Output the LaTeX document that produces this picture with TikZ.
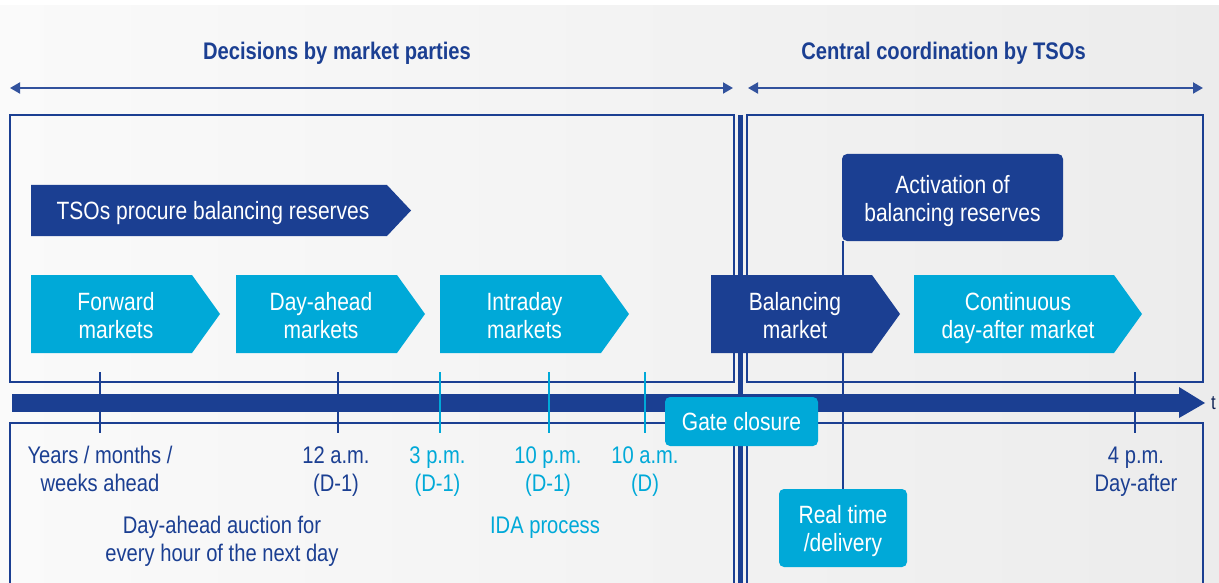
\documentclass[tikz,border=0pt]{standalone}
\usepackage{fontspec}
\setmainfont{Liberation Sans}[FakeStretch=0.84]
\usetikzlibrary{arrows.meta}
\definecolor{dblue}{HTML}{1B3F92}
\definecolor{cyanc}{HTML}{00A9D8}
\definecolor{bgl}{HTML}{FAFAFA}
\definecolor{bgr}{HTML}{ECECEC}
\newcommand\topstr{\rule{0pt}{20pt}}
\tikzset{
  txt/.style={inner sep=0pt, align=center, anchor=north},
  big/.style={font=\fontsize{25}{28}\selectfont},
  lab/.style={font=\fontsize{24}{28}\selectfont},
  ttl/.style={font=\fontsize{24}{28}\selectfont\bfseries, text=dblue},
  panel/.style={draw=dblue, line width=1.5pt},
  chevc/.style={fill=cyanc},
  chevd/.style={fill=dblue},
  rbox/.style={rounded corners=5pt, inner sep=0pt},
  tickd/.style={draw=dblue, line width=2pt},
  tickc/.style={draw=cyanc, line width=2pt},
  darr/.style={draw=dblue!90, line width=2pt, {Triangle[length=10pt,width=11pt]}-{Triangle[length=10pt,width=11pt]}},
}
\begin{document}
\begin{tikzpicture}[x=1pt,y=-1pt]
\useasboundingbox (0,0) rectangle (1219,583);
% background
\shade[left color=bgl, right color=bgr] (0,6) rectangle (1219,583);

% titles
\node[txt, ttl] (tl) at (337,39) {\topstr Decisions by market parties};
\node[txt, ttl] (tr) at (943.5,39) {\topstr Central coordination by TSOs};

% top double arrows
\coordinate (la) at (10,88);
\coordinate (lb) at (733,88);
\coordinate (ra) at (748,88);
\coordinate (rb) at (1203,88);
\draw[darr] (la) -- (lb);
\draw[darr] (ra) -- (rb);

% panels
\draw[panel] (10,115) rectangle (734,382);
\draw[panel] (747,115) rectangle (1203,382);
\draw[panel] (10,590) -- (10,423) -- (734,423) -- (734,590);
\draw[panel] (747,590) -- (747,423) -- (1203,423) -- (1203,590);

% middle thick separator
\draw[dblue, line width=5pt] (740.5,115) -- (740.5,590);

% chevrons
\fill[chevd] (31,185) -- (387,185) -- (411,210.5) -- (387,236) -- (31,236) -- cycle;
\fill[chevc] (31,275) -- (192,275) -- (220,314) -- (192,353) -- (31,353) -- cycle;
\fill[chevc] (236,275) -- (397,275) -- (425,314) -- (397,353) -- (236,353) -- cycle;
\fill[chevc] (440,275) -- (601,275) -- (629,314) -- (601,353) -- (440,353) -- cycle;
\fill[chevd] (711,275) -- (872,275) -- (900,314) -- (872,353) -- (711,353) -- cycle;
\fill[chevc] (914,275) -- (1114,275) -- (1142,314) -- (1114,353) -- (914,353) -- cycle;

% activation box
\node[rbox, fill=dblue, minimum width=221pt, minimum height=87pt] (act) at (952.5,197.5) {};

% timeline
\fill[dblue] (12,393.5) rectangle (1180,412);
\fill[dblue] (1179,387) -- (1205,403) -- (1179,418) -- cycle;
\node[anchor=base west, inner sep=0pt, font=\fontsize{20}{24}\selectfont, text=dblue!60!black] (t) at (1211,409) {t};

% ticks
\draw[tickd] (100,372) -- (100,433);
\draw[tickd] (338,372) -- (338,433);
\draw[tickc] (440,372) -- (440,433);
\draw[tickc] (549,372) -- (549,433);
\draw[tickc] (645,372) -- (645,433);
\draw[tickd] (1135,372) -- (1135,433);

% real time and gate closure boxes
\node[rbox, fill=cyanc, minimum width=128pt, minimum height=78pt] (rt) at (843,528) {};
\node[rbox, fill=cyanc, minimum width=153pt, minimum height=49pt] (gc) at (741.5,421.5) {};

% connector from activation to real time
\draw[dblue, line width=2pt] (rt.north |- act.south) -- (rt.north);

% chevron texts
\node[txt, big, text=white] (tso) at (213,199) {\topstr TSOs procure balancing reserves};
\node[txt, big, text=white] (fwd) at (116,290) {\topstr Forward\\markets};
\node[txt, big, text=white] (dam) at (321,290) {\topstr Day-ahead\\markets};
\node[txt, big, text=white] (idm) at (524.5,290) {\topstr Intraday\\markets};
\node[txt, big, text=white] (bal) at (795,290) {\topstr Balancing\\market};
\node[txt, big, text=white] (cda) at (1018,290) {\topstr Continuous\\day-after market};
\node[txt, big, text=white] (actT) at (952.5,173) {\topstr Activation of\\balancing reserves};
\node[txt, big, text=white] (gcT) at (741.5,410) {\topstr Gate closure};
\node[txt, big, text=white] (rtT) at (843,503) {\topstr Real time\\/delivery};

% tick labels
\node[txt, lab, text=dblue] (l1) at (100,443) {\topstr Years / months /\\weeks ahead};
\node[txt, lab, text=dblue] (l2) at (336,443) {\topstr 12 a.m.\\(D-1)};
\node[txt, lab, text=cyanc] (l3) at (437.5,443) {\topstr 3 p.m.\\(D-1)};
\node[txt, lab, text=cyanc] (l4) at (548,443) {\topstr 10 p.m.\\(D-1)};
\node[txt, lab, text=cyanc] (l5) at (645,443) {\topstr 10 a.m.\\(D)};
\node[txt, lab, text=dblue] (l6) at (1136,443) {\topstr 4 p.m.\\Day-after};
\node[txt, lab, text=dblue] (l7) at (222,513) {\topstr Day-ahead auction for\\every hour of the next day};
\node[txt, lab, text=cyanc] (l8) at (545,513) {\topstr IDA process};
\end{tikzpicture}
\end{document}
